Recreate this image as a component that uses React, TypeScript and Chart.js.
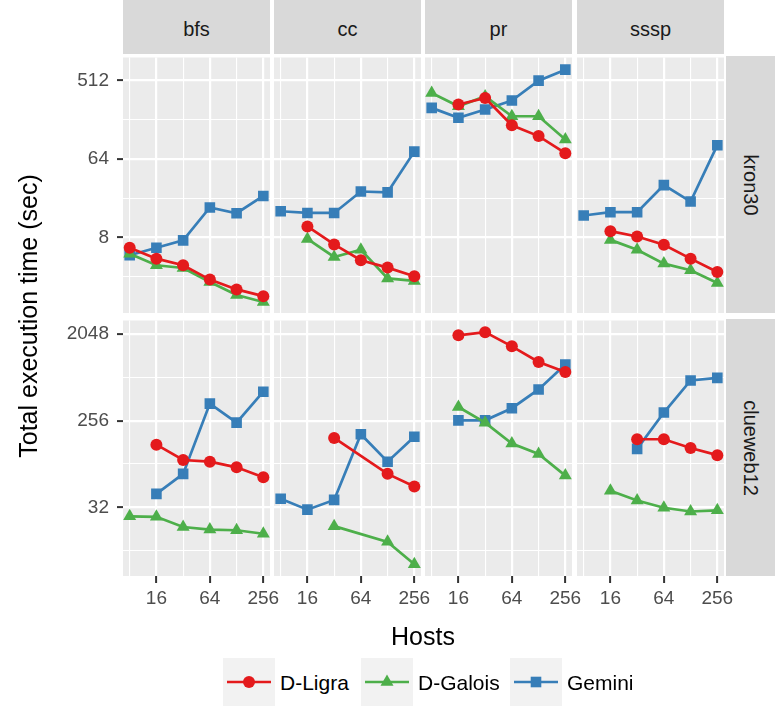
import React, { useEffect, useRef } from 'react';
import { Chart, registerables } from 'chart.js';
Chart.register(...registerables);

const FONT = '"Liberation Sans", Arial, Helvetica, sans-serif';

// ---- categories / ticks ----
const hosts = [8, 16, 32, 64, 128, 256];
const hostLabels = [16, 64, 256];
const algorithms = ['bfs', 'cc', 'pr', 'sssp'];
const graphs = ['kron30', 'clueweb12'];
const systems = ['D-Ligra', 'D-Galois', 'Gemini'];
const systemColors = ['#E41A1C', '#4DAF4A', '#377EB8'];
const systemShapes = ['circle', 'triangle', 'rect'];
const kronTickLabels = [8, 64, 512];
const kronMinorTicks = [2 ** 1.5, 2 ** 4.5, 2 ** 7.5];
const clueTickLabels = [32, 256, 2048];
const clueMinorTicks = [2 ** 3.5, 2 ** 6.5, 2 ** 9.5];

// ---- values (seconds), per host count 8..256; null = not run ----
const bfsKronLigra = [6.1, 4.56, 3.83, 2.62, 2.02, 1.69];
const bfsKronGalois = [5.2, 3.83, 3.56, 2.46, 1.74, 1.45];
const bfsKronGemini = [5.0, 6.1, 7.4, 17.7, 15.2, 24];
const ccKronLigra = [null, 10.7, 6.65, 4.37, 3.6, 2.87];
const ccKronGalois = [null, 7.7, 4.77, 5.78, 2.7, 2.53];
const ccKronGemini = [16, 15.3, 15.3, 27, 26.4, 77.6];
const prKronLigra = [null, 270, 321, 156, 117, 74.5];
const prKronGalois = [367, 258, 335, 198, 198, 107];
const prKronGemini = [247, 190, 237, 300, 508, 680];
const ssspKronLigra = [null, 9.45, 8.2, 6.6, 4.56, 3.2];
const ssspKronGalois = [null, 7.5, 5.78, 4.0, 3.36, 2.4];
const ssspKronGemini = [14.3, 15.6, 15.6, 32, 20.7, 92];

const bfsClueLigra = [null, 144, 99.7, 95.7, 83.6, 65.8];
const bfsClueGalois = [25.8, 25.5, 20, 18.8, 18.5, 17];
const bfsClueGemini = [null, 44.3, 71.5, 385, 244, 512];
const ccClueLigra = [null, null, 169, null, 71.5, 52.7];
const ccClueGalois = [null, null, 20.4, null, 14, 8.2];
const ccClueGemini = [39.4, 30.3, 38.3, 185, 95.7, 174];
const prClueLigra = [null, 1980, 2135, 1520, 1045, 820];
const prClueGalois = [null, 355, 244, 148, 115, 68.6];
const prClueGemini = [null, 258, 258, 345, 541, 982];
const ssspClueLigra = [null, null, 164, 164, 133, 112];
const ssspClueGalois = [null, 47.8, 37.8, 31.7, 29, 29.8];
const ssspClueGemini = [null, null, 130, 311, 671, 714];

const panelData: (number | null)[][][][] = [
  [
    [bfsKronLigra, bfsKronGalois, bfsKronGemini],
    [ccKronLigra, ccKronGalois, ccKronGemini],
    [prKronLigra, prKronGalois, prKronGemini],
    [ssspKronLigra, ssspKronGalois, ssspKronGemini],
  ],
  [
    [bfsClueLigra, bfsClueGalois, bfsClueGemini],
    [ccClueLigra, ccClueGalois, ccClueGemini],
    [prClueLigra, prClueGalois, prClueGemini],
    [ssspClueLigra, ssspClueGalois, ssspClueGemini],
  ],
];

// ---- layout ----
const COL_LEFT = [123, 274, 425, 577];
const ROW_TOP = [56, 319];
const PW = 147;
const PH = 257;
const ML = 90;
const MR = 24;
const MT = 6;
const MB = 45;
const X_RANGE = [2 ** 2.75, 2 ** 8.25];
const Y_RANGE = [
  [2 ** 0.114, 2 ** 9.873],
  [2 ** 2.627, 2 ** 11.464],
];
const LINE_W = 2.7;
const POINT_R = [6, 7.5, 7.5];

const bgPlugin = {
  id: 'panelBg',
  beforeDraw(chart: any) {
    const { ctx, chartArea } = chart;
    if (!chartArea) return;
    ctx.save();
    ctx.fillStyle = '#EBEBEB';
    ctx.fillRect(chartArea.left, chartArea.top, chartArea.right - chartArea.left, chartArea.bottom - chartArea.top);
    ctx.restore();
  },
};

function Panel({ row, col }: { row: number; col: number }) {
  const ref = useRef<HTMLCanvasElement>(null);
  useEffect(() => {
    if (!ref.current) return;
    const isLeft = col === 0;
    const isBottom = row === 1;
    const yLabels = row === 0 ? kronTickLabels : clueTickLabels;
    const yMinor = row === 0 ? kronMinorTicks : clueMinorTicks;
    const yAll = [...yMinor, ...yLabels].sort((a, b) => a - b);
    const series = panelData[row][col];
    const isMajorX = (v: number) => hostLabels.includes(v);
    const isMajorY = (v: number) => yLabels.includes(v);
    const chart = new Chart(ref.current, {
      type: 'line',
      data: {
        datasets: systems.map((s, i) => ({
          label: s,
          data: hosts
            .map((h, j) => ({ x: h, y: series[i][j] }))
            .filter((p) => p.y !== null) as any,
          borderColor: systemColors[i],
          backgroundColor: systemColors[i],
          borderWidth: LINE_W,
          pointStyle: systemShapes[i] as any,
          pointRadius: POINT_R[i],
          pointBorderWidth: 0,
          pointHoverRadius: POINT_R[i],
          tension: 0,
          fill: false,
        })),
      },
      options: {
        animation: false,
        responsive: false,
        maintainAspectRatio: false,
        events: [],
        layout: { padding: { left: 0, right: MR, top: MT, bottom: 0 } },
        plugins: { legend: { display: false }, tooltip: { enabled: false } },
        scales: {
          x: {
            type: 'logarithmic',
            min: X_RANGE[0],
            max: X_RANGE[1],
            bounds: 'data',
            afterBuildTicks: (s: any) => {
              s.ticks = hosts.map((v) => ({ value: v }));
            },
            afterFit: (s: any) => {
              s.height = MB;
              s.paddingLeft = 0;
              s.paddingRight = 0;
            },
            border: { display: false },
            grid: {
              color: '#FFFFFF',
              lineWidth: (c: any) => (c.tick && isMajorX(c.tick.value) ? 2.2 : 1.1),
              drawTicks: isBottom,
              tickLength: 7,
              tickWidth: 2,
              tickColor: (c: any) => (c.tick && isMajorX(c.tick.value) ? '#333333' : 'rgba(0,0,0,0)'),
            },
            ticks: {
              display: isBottom,
              autoSkip: false,
              maxRotation: 0,
              minRotation: 0,
              padding: 4,
              color: '#4D4D4D',
              font: { family: FONT, size: 19 },
              callback: (v: any) => (isMajorX(Number(v)) ? String(v) : ''),
            },
          },
          y: {
            type: 'logarithmic',
            min: Y_RANGE[row][0],
            max: Y_RANGE[row][1],
            bounds: 'data',
            afterBuildTicks: (s: any) => {
              s.ticks = yAll.map((v) => ({ value: v }));
            },
            afterFit: (s: any) => {
              s.width = ML;
              s.paddingTop = 0;
              s.paddingBottom = 0;
            },
            border: { display: false },
            grid: {
              color: '#FFFFFF',
              lineWidth: (c: any) => (c.tick && isMajorY(c.tick.value) ? 2.2 : 1.1),
              drawTicks: isLeft,
              tickLength: 6,
              tickWidth: 2,
              tickColor: (c: any) => (c.tick && isMajorY(c.tick.value) ? '#333333' : 'rgba(0,0,0,0)'),
            },
            ticks: {
              display: isLeft,
              autoSkip: false,
              padding: 8,
              color: '#4D4D4D',
              font: { family: FONT, size: 19 },
              callback: (v: any) => (isMajorY(Number(v)) ? String(v) : ''),
            },
          },
        },
      } as any,
      plugins: [bgPlugin],
    });
    return () => chart.destroy();
  }, [row, col]);
  const w = ML + PW + MR;
  const h = MT + PH + MB;
  return (
    <canvas
      ref={ref}
      width={w}
      height={h}
      style={{ position: 'absolute', left: COL_LEFT[col] - ML, top: ROW_TOP[row] - MT, width: w, height: h }}
    />
  );
}

function LegendMarker({ i }: { i: number }) {
  const c = systemColors[i];
  let marker;
  if (systemShapes[i] === 'circle') marker = <circle cx={26} cy={24} r={6} fill={c} />;
  else if (systemShapes[i] === 'triangle')
    marker = <polygon points={`26,16.5 ${26 - 6.5},27.75 ${26 + 6.5},27.75`} fill={c} />;
  else marker = <rect x={20.7} y={18.7} width={10.6} height={10.6} fill={c} />;
  return (
    <svg width={52} height={48} style={{ display: 'block', background: '#F2F2F2' }}>
      <line x1={4} y1={24} x2={48} y2={24} stroke={c} strokeWidth={LINE_W} />
      {marker}
    </svg>
  );
}

const legendKeyX = [223, 361, 510];

export default function App() {
  return (
    <div
      style={{
        position: 'absolute',
        left: 0,
        top: 0,
        width: 775,
        height: 708,
        background: '#FFFFFF',
        overflow: 'hidden',
        fontFamily: FONT,
      }}
    >
      {algorithms.map((a, c) => (
        <div
          key={a}
          style={{
            position: 'absolute',
            left: COL_LEFT[c],
            top: 0,
            width: PW,
            height: 54,
            background: '#D9D9D9',
            color: '#1A1A1A',
            fontSize: 20,
            lineHeight: '58px',
            textAlign: 'center',
          }}
        >
          {a}
        </div>
      ))}
      {graphs.map((g, r) => (
        <div
          key={g}
          style={{
            position: 'absolute',
            left: 726,
            top: ROW_TOP[r],
            width: 52,
            height: PH,
            background: '#D9D9D9',
          }}
        >
          <div
            style={{
              position: 'absolute',
              left: 25 - 100,
              top: PH / 2 - 15,
              width: 200,
              height: 30,
              lineHeight: '30px',
              textAlign: 'center',
              color: '#1A1A1A',
              fontSize: 20,
              transform: 'rotate(90deg)',
            }}
          >
            {g}
          </div>
        </div>
      ))}
      {graphs.map((g, r) => algorithms.map((a, c) => <Panel key={g + a} row={r} col={c} />))}
      <div
        style={{
          position: 'absolute',
          left: 28 - 200,
          top: 316 - 16,
          width: 400,
          height: 32,
          lineHeight: '32px',
          textAlign: 'center',
          fontSize: 25,
          color: '#000',
          transform: 'rotate(-90deg)',
        }}
      >
        Total execution time (sec)
      </div>
      <div
        style={{
          position: 'absolute',
          left: 423 - 100,
          top: 620,
          width: 200,
          height: 32,
          lineHeight: '32px',
          textAlign: 'center',
          fontSize: 25,
          color: '#000',
        }}
      >
        Hosts
      </div>
      {systems.map((s, i) => (
        <React.Fragment key={s}>
          <div style={{ position: 'absolute', left: legendKeyX[i], top: 658 }}>
            <LegendMarker i={i} />
          </div>
          <div
            style={{
              position: 'absolute',
              left: legendKeyX[i] + 57,
              top: 668,
              height: 30,
              lineHeight: '30px',
              fontSize: 21,
              color: '#000',
              whiteSpace: 'nowrap',
            }}
          >
            {s}
          </div>
        </React.Fragment>
      ))}
    </div>
  );
}
